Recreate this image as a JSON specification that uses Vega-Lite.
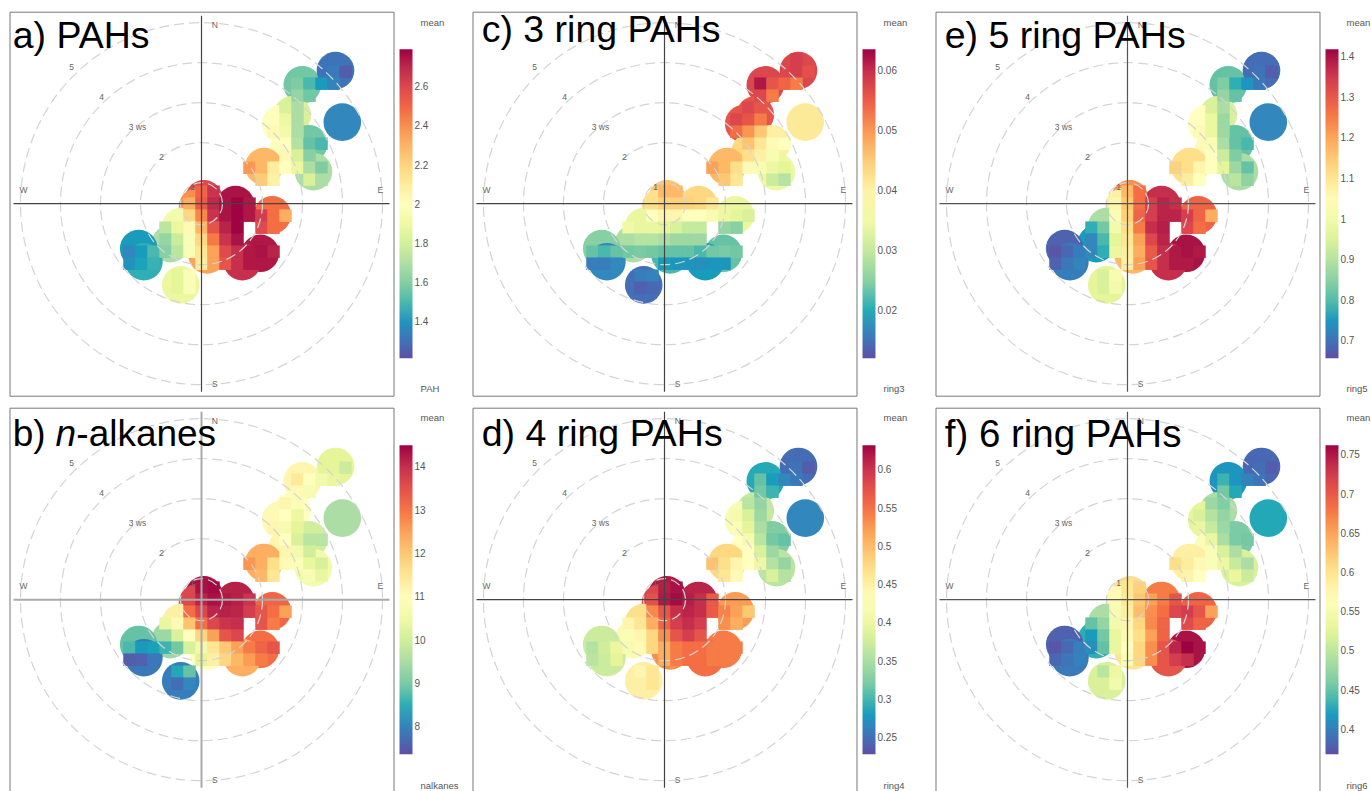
{"$schema":"https://vega.github.io/schema/vega-lite/v6.json","padding":{"left":8.5,"top":10.7,"right":0,"bottom":0},"background":"white",
"config":{"view":{"stroke":"#777","strokeWidth":1},"range":{"ramp":["#5E4FA2","#3288BD","#66C2A5","#ABDDA4","#E6F598","#FFFFBF","#FEE08B","#FDAE61","#F46D43","#D53E4F","#9E0142"]},"legend":{"orient":"none","legendX":390,"legendY":37.5,"padding":0,"title":null,"gradientLength":309,"gradientThickness":13,"gradientStrokeWidth":0,"labelFontSize":10,"labelColor":"#555","labelFont":"Liberation Sans","labelOffset":12},"text":{"font":"Liberation Sans"}},
"resolve":{"scale":{"color":"independent","size":"independent"},"legend":{"color":"independent"}},
"datasets":{
"rings":[{"ws":1,"r":0.525,"x":0,"y":0},{"ws":2,"r":1.525,"x":0,"y":0},{"ws":3,"r":2.525,"x":0,"y":0},{"ws":4,"r":3.525,"x":0,"y":0},{"ws":5,"r":4.525,"x":0,"y":0}],
"cross":[{"x":-4.7,"x2":4.7,"y":0,"y2":0},{"x":0,"x2":0,"y":-4.7,"y2":4.7}],
"compass":[{"x":0.33,"y":4.47,"label":"N"},{"x":0.33,"y":-4.5,"label":"S"},{"x":-4.45,"y":0.33,"label":"W"},{"x":4.47,"y":0.33,"label":"E"},{"x":-3.25,"y":3.42,"label":"5"},{"x":-2.5,"y":2.67,"label":"4"},{"x":-1.6,"y":1.92,"label":"3 ws"},{"x":-1,"y":1.17,"label":"2"},{"x":-0.22,"y":0.42,"label":"1"}],
"lobes":[
{"x":2.52,"y":2.97,"PAH":1.56,"nalkanes":11.16,"ring3":0.0575,"ring4":0.29,"ring5":0.81,"ring6":0.416},
{"x":3.35,"y":3.33,"PAH":1.31,"nalkanes":10.23,"ring3":0.0575,"ring4":0.249,"ring5":0.696,"ring6":0.385},
{"x":3.52,"y":2.04,"PAH":1.37,"nalkanes":9.52,"ring3":0.0416,"ring4":0.269,"ring5":0.734,"ring6":0.428},
{"x":2.27,"y":2.22,"PAH":1.82,"nalkanes":10.94,"ring3":0.056,"ring4":0.37,"ring5":0.948,"ring6":0.487},
{"x":1.98,"y":2.0,"PAH":2.0,"nalkanes":11.1,"ring3":0.056,"ring4":0.419,"ring5":1.04,"ring6":0.527},
{"x":2.68,"y":1.5,"PAH":1.56,"nalkanes":10.0,"ring3":0.0405,"ring4":0.326,"ring5":0.81,"ring6":0.46},
{"x":2.14,"y":1.3,"PAH":2.0,"nalkanes":11.16,"ring3":0.044,"ring4":0.431,"ring5":1.054,"ring6":0.558},
{"x":2.8,"y":0.8,"PAH":1.69,"nalkanes":10.6,"ring3":0.0343,"ring4":0.362,"ring5":0.887,"ring6":0.519},
{"x":1.56,"y":0.93,"PAH":2.29,"nalkanes":12.37,"ring3":0.0472,"ring4":0.479,"ring5":1.115,"ring6":0.586},
{"x":0.06,"y":0.12,"PAH":2.6,"nalkanes":14.37,"ring3":0.0462,"ring4":0.621,"ring5":1.23,"ring6":0.605},
{"x":-0.1,"y":-0.08,"PAH":2.4,"nalkanes":13.65,"ring3":0.043,"ring4":0.585,"ring5":1.077,"ring6":0.574},
{"x":0.85,"y":-0.02,"PAH":2.76,"nalkanes":14.2,"ring3":0.0441,"ring4":0.613,"ring5":1.367,"ring6":0.676},
{"x":1.77,"y":-0.28,"PAH":2.48,"nalkanes":13.2,"ring3":0.0338,"ring4":0.524,"ring5":1.283,"ring6":0.692},
{"x":0.56,"y":-0.66,"PAH":2.71,"nalkanes":13.8,"ring3":0.0318,"ring4":0.593,"ring5":1.367,"ring6":0.704},
{"x":1.47,"y":-1.24,"PAH":2.75,"nalkanes":13.08,"ring3":0.0225,"ring4":0.544,"ring5":1.405,"ring6":0.755},
{"x":1.02,"y":-1.45,"PAH":2.68,"nalkanes":12.37,"ring3":0.0189,"ring4":0.552,"ring5":1.367,"ring6":0.704},
{"x":0.14,"y":-1.28,"PAH":2.35,"nalkanes":10.94,"ring3":0.0215,"ring4":0.532,"ring5":1.176,"ring6":0.598},
{"x":0.06,"y":-0.82,"PAH":2.48,"nalkanes":12.37,"ring3":0.0277,"ring4":0.572,"ring5":1.252,"ring6":0.613},
{"x":-0.52,"y":-0.57,"PAH":1.93,"nalkanes":11.3,"ring3":0.0338,"ring4":0.471,"ring5":0.887,"ring6":0.487},
{"x":-0.78,"y":-1.0,"PAH":1.69,"nalkanes":9.37,"ring3":0.0277,"ring4":0.439,"ring5":0.757,"ring6":0.432},
{"x":-1.57,"y":-1.12,"PAH":1.42,"nalkanes":8.8,"ring3":0.025,"ring4":0.374,"ring5":0.681,"ring6":0.381},
{"x":-1.44,"y":-1.45,"PAH":1.47,"nalkanes":7.87,"ring3":0.0174,"ring4":0.374,"ring5":0.719,"ring6":0.397},
{"x":-0.52,"y":-2.03,"PAH":1.88,"nalkanes":7.95,"ring3":0.0148,"ring4":0.451,"ring5":0.963,"ring6":0.519}],
"cells":[
{"x":3.3,"y":3.6,"PAH":1.31,"nalkanes":10.23,"ring3":0.0586,"ring4":0.249,"ring5":0.696,"ring6":0.385},
{"x":3.3,"y":3.3,"PAH":1.33,"nalkanes":10.23,"ring3":0.0586,"ring4":0.253,"ring5":0.704,"ring6":0.389},
{"x":3.6,"y":3.3,"PAH":1.25,"nalkanes":9.94,"ring3":0.0565,"ring4":0.237,"ring5":0.673,"ring6":0.377},
{"x":2.4,"y":3.0,"PAH":1.59,"nalkanes":11.44,"ring3":0.0622,"ring4":0.31,"ring5":0.841,"ring6":0.436},
{"x":2.7,"y":3.0,"PAH":1.5,"nalkanes":10.94,"ring3":0.056,"ring4":0.282,"ring5":0.78,"ring6":0.416},
{"x":3.0,"y":3.0,"PAH":1.42,"nalkanes":10.59,"ring3":0.0544,"ring4":0.269,"ring5":0.749,"ring6":0.404},
{"x":3.3,"y":3.0,"PAH":1.36,"nalkanes":10.37,"ring3":0.0524,"ring4":0.257,"ring5":0.711,"ring6":0.393},
{"x":2.4,"y":2.7,"PAH":1.64,"nalkanes":11.08,"ring3":0.0575,"ring4":0.318,"ring5":0.864,"ring6":0.456},
{"x":2.7,"y":2.7,"PAH":1.56,"nalkanes":10.73,"ring3":0.0524,"ring4":0.298,"ring5":0.81,"ring6":0.428},
{"x":2.1,"y":2.4,"PAH":1.82,"nalkanes":11.16,"ring3":0.0575,"ring4":0.362,"ring5":0.948,"ring6":0.479},
{"x":2.4,"y":2.4,"PAH":1.69,"nalkanes":10.8,"ring3":0.056,"ring4":0.338,"ring5":0.887,"ring6":0.464},
{"x":1.8,"y":2.1,"PAH":2.0,"nalkanes":11.08,"ring3":0.0575,"ring4":0.411,"ring5":1.04,"ring6":0.519},
{"x":2.1,"y":2.1,"PAH":1.89,"nalkanes":10.94,"ring3":0.056,"ring4":0.383,"ring5":0.978,"ring6":0.495},
{"x":2.4,"y":2.1,"PAH":1.69,"nalkanes":10.44,"ring3":0.0524,"ring4":0.342,"ring5":0.871,"ring6":0.475},
{"x":1.8,"y":1.8,"PAH":2.04,"nalkanes":11.16,"ring3":0.0534,"ring4":0.423,"ring5":1.054,"ring6":0.534},
{"x":2.1,"y":1.8,"PAH":1.93,"nalkanes":10.66,"ring3":0.0503,"ring4":0.391,"ring5":0.978,"ring6":0.507},
{"x":2.4,"y":1.8,"PAH":1.69,"nalkanes":10.23,"ring3":0.0457,"ring4":0.35,"ring5":0.871,"ring6":0.479},
{"x":2.1,"y":1.5,"PAH":2.0,"nalkanes":10.94,"ring3":0.0462,"ring4":0.415,"ring5":1.016,"ring6":0.534},
{"x":2.4,"y":1.5,"PAH":1.72,"nalkanes":10.09,"ring3":0.0421,"ring4":0.362,"ring5":0.887,"ring6":0.487},
{"x":2.7,"y":1.5,"PAH":1.53,"nalkanes":9.73,"ring3":0.039,"ring4":0.318,"ring5":0.81,"ring6":0.46},
{"x":3.0,"y":1.5,"PAH":1.5,"nalkanes":9.73,"ring3":0.038,"ring4":0.31,"ring5":0.795,"ring6":0.456},
{"x":2.1,"y":1.2,"PAH":2.04,"nalkanes":11.16,"ring3":0.0431,"ring4":0.431,"ring5":1.04,"ring6":0.558},
{"x":2.4,"y":1.2,"PAH":1.82,"nalkanes":10.59,"ring3":0.0405,"ring4":0.383,"ring5":0.932,"ring6":0.519},
{"x":2.7,"y":1.2,"PAH":1.61,"nalkanes":10.0,"ring3":0.0364,"ring4":0.342,"ring5":0.841,"ring6":0.487},
{"x":1.2,"y":0.9,"PAH":2.38,"nalkanes":12.65,"ring3":0.0493,"ring4":0.496,"ring5":1.138,"ring6":0.605},
{"x":1.5,"y":0.9,"PAH":2.29,"nalkanes":12.37,"ring3":0.0472,"ring4":0.471,"ring5":1.115,"ring6":0.59},
{"x":1.8,"y":0.9,"PAH":2.1,"nalkanes":11.66,"ring3":0.0431,"ring4":0.443,"ring5":1.062,"ring6":0.574},
{"x":2.1,"y":0.9,"PAH":2.0,"nalkanes":11.08,"ring3":0.039,"ring4":0.431,"ring5":1.04,"ring6":0.558},
{"x":2.4,"y":0.9,"PAH":1.88,"nalkanes":10.8,"ring3":0.0364,"ring4":0.403,"ring5":0.963,"ring6":0.538},
{"x":2.7,"y":0.9,"PAH":1.69,"nalkanes":10.37,"ring3":0.0343,"ring4":0.358,"ring5":0.871,"ring6":0.507},
{"x":3.0,"y":0.9,"PAH":1.59,"nalkanes":10.09,"ring3":0.0328,"ring4":0.338,"ring5":0.81,"ring6":0.487},
{"x":1.5,"y":0.6,"PAH":2.23,"nalkanes":12.23,"ring3":0.0457,"ring4":0.463,"ring5":1.085,"ring6":0.582},
{"x":1.8,"y":0.6,"PAH":2.08,"nalkanes":11.51,"ring3":0.0421,"ring4":0.439,"ring5":1.04,"ring6":0.566},
{"x":2.7,"y":0.6,"PAH":1.82,"nalkanes":10.73,"ring3":0.0307,"ring4":0.383,"ring5":0.909,"ring6":0.534},
{"x":3.0,"y":0.6,"PAH":1.69,"nalkanes":10.37,"ring3":0.0287,"ring4":0.358,"ring5":0.856,"ring6":0.511},
{"x":0,"y":0.3,"PAH":2.51,"nalkanes":14.37,"ring3":0.0472,"ring4":0.617,"ring5":1.176,"ring6":0.598},
{"x":0.3,"y":0.3,"PAH":2.67,"nalkanes":14.44,"ring3":0.0472,"ring4":0.625,"ring5":1.268,"ring6":0.617},
{"x":-0.3,"y":0,"PAH":2.32,"nalkanes":13.65,"ring3":0.0431,"ring4":0.576,"ring5":1.062,"ring6":0.574},
{"x":0,"y":0,"PAH":2.54,"nalkanes":14.15,"ring3":0.0446,"ring4":0.621,"ring5":1.153,"ring6":0.594},
{"x":0.3,"y":0,"PAH":2.7,"nalkanes":14.37,"ring3":0.0446,"ring4":0.629,"ring5":1.268,"ring6":0.625},
{"x":0.6,"y":0,"PAH":2.76,"nalkanes":14.3,"ring3":0.0446,"ring4":0.617,"ring5":1.344,"ring6":0.653},
{"x":0.9,"y":0,"PAH":2.79,"nalkanes":14.2,"ring3":0.0441,"ring4":0.605,"ring5":1.382,"ring6":0.676},
{"x":1.2,"y":0,"PAH":2.75,"nalkanes":13.94,"ring3":0.0421,"ring4":0.568,"ring5":1.367,"ring6":0.704},
{"x":-0.3,"y":-0.3,"PAH":2.19,"nalkanes":13.08,"ring3":0.038,"ring4":0.536,"ring5":1.024,"ring6":0.554},
{"x":0,"y":-0.3,"PAH":2.42,"nalkanes":13.65,"ring3":0.0395,"ring4":0.572,"ring5":1.138,"ring6":0.586},
{"x":0.3,"y":-0.3,"PAH":2.67,"nalkanes":14.15,"ring3":0.0395,"ring4":0.605,"ring5":1.283,"ring6":0.633},
{"x":0.6,"y":-0.3,"PAH":2.76,"nalkanes":14.2,"ring3":0.038,"ring4":0.613,"ring5":1.344,"ring6":0.665},
{"x":0.9,"y":-0.3,"PAH":2.79,"nalkanes":14.15,"ring3":0.038,"ring4":0.605,"ring5":1.382,"ring6":0.684},
{"x":1.2,"y":-0.3,"PAH":2.75,"nalkanes":13.8,"ring3":0.0364,"ring4":0.568,"ring5":1.382,"ring6":0.716},
{"x":1.5,"y":-0.3,"PAH":2.64,"nalkanes":13.44,"ring3":0.0343,"ring4":0.54,"ring5":1.344,"ring6":0.724},
{"x":1.8,"y":-0.3,"PAH":2.48,"nalkanes":13.08,"ring3":0.0328,"ring4":0.52,"ring5":1.283,"ring6":0.704},
{"x":2.1,"y":-0.3,"PAH":2.32,"nalkanes":12.51,"ring3":0.0318,"ring4":0.492,"ring5":1.191,"ring6":0.653},
{"x":-0.9,"y":-0.6,"PAH":1.74,"nalkanes":10.37,"ring3":0.0349,"ring4":0.443,"ring5":0.78,"ring6":0.448},
{"x":-0.6,"y":-0.6,"PAH":1.88,"nalkanes":11.08,"ring3":0.0338,"ring4":0.463,"ring5":0.826,"ring6":0.475},
{"x":-0.3,"y":-0.6,"PAH":2.04,"nalkanes":12.08,"ring3":0.0338,"ring4":0.512,"ring5":1.0,"ring6":0.546},
{"x":0,"y":-0.6,"PAH":2.29,"nalkanes":13.08,"ring3":0.0328,"ring4":0.56,"ring5":1.115,"ring6":0.578},
{"x":0.3,"y":-0.6,"PAH":2.56,"nalkanes":13.65,"ring3":0.0318,"ring4":0.593,"ring5":1.252,"ring6":0.613},
{"x":0.6,"y":-0.6,"PAH":2.72,"nalkanes":13.94,"ring3":0.0302,"ring4":0.605,"ring5":1.367,"ring6":0.668},
{"x":0.9,"y":-0.6,"PAH":2.79,"nalkanes":14.01,"ring3":0.0302,"ring4":0.593,"ring5":1.39,"ring6":0.692},
{"x":1.5,"y":-0.6,"PAH":2.59,"nalkanes":13.44,"ring3":0.0261,"ring4":0.532,"ring5":1.329,"ring6":0.712},
{"x":1.8,"y":-0.6,"PAH":2.48,"nalkanes":12.94,"ring3":0.025,"ring4":0.512,"ring5":1.268,"ring6":0.692},
{"x":-0.9,"y":-0.9,"PAH":1.64,"nalkanes":9.37,"ring3":0.0277,"ring4":0.423,"ring5":0.734,"ring6":0.42},
{"x":-0.6,"y":-0.9,"PAH":1.78,"nalkanes":10.09,"ring3":0.0287,"ring4":0.443,"ring5":0.795,"ring6":0.456},
{"x":-0.3,"y":-0.9,"PAH":1.97,"nalkanes":10.94,"ring3":0.0287,"ring4":0.479,"ring5":0.963,"ring6":0.534},
{"x":0,"y":-0.9,"PAH":2.19,"nalkanes":11.8,"ring3":0.0277,"ring4":0.532,"ring5":1.1,"ring6":0.574},
{"x":0.3,"y":-0.9,"PAH":2.45,"nalkanes":12.51,"ring3":0.0266,"ring4":0.572,"ring5":1.207,"ring6":0.605},
{"x":0.6,"y":-0.9,"PAH":2.67,"nalkanes":13.44,"ring3":0.0266,"ring4":0.593,"ring5":1.329,"ring6":0.653},
{"x":0.9,"y":-0.9,"PAH":2.76,"nalkanes":13.65,"ring3":0.0266,"ring4":0.572,"ring5":1.382,"ring6":0.692},
{"x":-1.8,"y":-1.2,"PAH":1.37,"nalkanes":8.66,"ring3":0.0225,"ring4":0.358,"ring5":0.666,"ring6":0.373},
{"x":-1.5,"y":-1.2,"PAH":1.42,"nalkanes":8.3,"ring3":0.0215,"ring4":0.378,"ring5":0.688,"ring6":0.385},
{"x":-1.2,"y":-1.2,"PAH":1.5,"nalkanes":8.37,"ring3":0.0225,"ring4":0.399,"ring5":0.719,"ring6":0.401},
{"x":-0.9,"y":-1.2,"PAH":1.61,"nalkanes":8.59,"ring3":0.0235,"ring4":0.415,"ring5":0.734,"ring6":0.412},
{"x":-0.6,"y":-1.2,"PAH":1.74,"nalkanes":8.94,"ring3":0.024,"ring4":0.439,"ring5":0.78,"ring6":0.448},
{"x":-0.3,"y":-1.2,"PAH":1.97,"nalkanes":10.09,"ring3":0.0235,"ring4":0.479,"ring5":0.978,"ring6":0.534},
{"x":0,"y":-1.2,"PAH":2.13,"nalkanes":10.59,"ring3":0.0225,"ring4":0.512,"ring5":1.085,"ring6":0.566},
{"x":0.3,"y":-1.2,"PAH":2.35,"nalkanes":11.51,"ring3":0.0225,"ring4":0.544,"ring5":1.191,"ring6":0.613},
{"x":0.6,"y":-1.2,"PAH":2.59,"nalkanes":12.01,"ring3":0.0225,"ring4":0.552,"ring5":1.298,"ring6":0.665},
{"x":0.9,"y":-1.2,"PAH":2.68,"nalkanes":12.51,"ring3":0.0215,"ring4":0.552,"ring5":1.367,"ring6":0.704},
{"x":1.2,"y":-1.2,"PAH":2.75,"nalkanes":12.94,"ring3":0.0235,"ring4":0.544,"ring5":1.397,"ring6":0.743},
{"x":1.5,"y":-1.2,"PAH":2.76,"nalkanes":13.23,"ring3":0.024,"ring4":0.544,"ring5":1.405,"ring6":0.763},
{"x":1.8,"y":-1.2,"PAH":2.72,"nalkanes":13.44,"ring3":0.0235,"ring4":0.544,"ring5":1.397,"ring6":0.755},
{"x":-1.8,"y":-1.5,"PAH":1.4,"nalkanes":7.52,"ring3":0.0163,"ring4":0.362,"ring5":0.681,"ring6":0.385},
{"x":-1.5,"y":-1.5,"PAH":1.44,"nalkanes":7.59,"ring3":0.0163,"ring4":0.374,"ring5":0.711,"ring6":0.393},
{"x":-1.2,"y":-1.5,"PAH":1.48,"nalkanes":7.87,"ring3":0.0174,"ring4":0.391,"ring5":0.727,"ring6":0.404},
{"x":0,"y":-1.5,"PAH":2.1,"nalkanes":10.23,"ring3":0.0189,"ring4":0.512,"ring5":1.077,"ring6":0.558},
{"x":0.3,"y":-1.5,"PAH":2.35,"nalkanes":11.3,"ring3":0.0184,"ring4":0.544,"ring5":1.207,"ring6":0.613},
{"x":0.6,"y":-1.5,"PAH":2.56,"nalkanes":11.8,"ring3":0.0184,"ring4":0.552,"ring5":1.306,"ring6":0.665},
{"x":0.9,"y":-1.5,"PAH":2.68,"nalkanes":12.23,"ring3":0.0179,"ring4":0.552,"ring5":1.367,"ring6":0.704},
{"x":1.2,"y":-1.5,"PAH":2.75,"nalkanes":12.58,"ring3":0.0184,"ring4":0.544,"ring5":1.397,"ring6":0.724},
{"x":1.5,"y":-1.5,"PAH":2.75,"nalkanes":12.94,"ring3":0.0184,"ring4":0.544,"ring5":1.397,"ring6":0.735},
{"x":-0.6,"y":-1.8,"PAH":1.85,"nalkanes":8.45,"ring3":0.0163,"ring4":0.443,"ring5":0.948,"ring6":0.499},
{"x":-0.3,"y":-1.8,"PAH":1.97,"nalkanes":8.8,"ring3":0.0168,"ring4":0.463,"ring5":1.016,"ring6":0.538},
{"x":-0.6,"y":-2.1,"PAH":1.85,"nalkanes":7.73,"ring3":0.0137,"ring4":0.451,"ring5":0.948,"ring6":0.519},
{"x":-0.3,"y":-2.1,"PAH":1.97,"nalkanes":8.09,"ring3":0.0143,"ring4":0.463,"ring5":1.0,"ring6":0.546}]
},
"columns":3,"bounds":"flush","spacing":{"row":12,"column":79},
"concat":[
{"width":384,"height":384,"encoding":{"x":{"field":"x","type":"quantitative","axis":null,"scale":{"domain":[-4.8,4.8],"nice":false,"zero":false}},"y":{"field":"y","type":"quantitative","axis":null,"scale":{"domain":[-4.8,4.8],"nice":false,"zero":false}}},
"layer":[
{"data":{"name":"lobes"},"mark":{"type":"point","filled":true,"opacity":1,"size":1414,"shape":"circle"},"encoding":{"color":{"field":"PAH","type":"quantitative","scale":{"domain":[1.216,2.794]},"legend":{"values":[1.4,1.6,1.8,2,2.2,2.4,2.6],"format":".1~f"}}}},
{"data":{"name":"cells"},"mark":{"type":"square","opacity":1,"size":156},"encoding":{"color":{"field":"PAH","type":"quantitative"}}},
{"data":{"name":"rings"},"mark":{"type":"point","filled":false,"shape":"circle","color":"#d4d4d4","strokeWidth":1.2,"strokeDash":[10,5],"opacity":1},"encoding":{"size":{"field":"r","type":"quantitative","legend":null,"scale":{"type":"pow","exponent":2,"domain":[0,4.525],"range":[0,131044]}}}},
{"data":{"name":"cross"},"mark":{"type":"rule","color":"#444","strokeWidth":1.2},"encoding":{"x2":{"field":"x2"},"y2":{"field":"y2"}}},
{"data":{"name":"compass"},"mark":{"type":"text","fontSize":8.5,"color":"#666"},"encoding":{"text":{"field":"label"}}},
{"data":{"values":[{"x":5.475,"y":4.52,"label":"mean"},{"x":5.475,"y":-4.63,"label":"PAH"}]},"mark":{"type":"text","fontSize":9.5,"color":"#555","align":"left"},"encoding":{"text":{"field":"label"}}},
{"data":{"values":[{"x":-4.72,"y":3.9,"label":"a) PAHs"}]},"mark":{"type":"text","fontSize":37.5,"color":"#000","align":"left","baseline":"alphabetic"},"encoding":{"text":{"field":"label"}}}
]},
{"width":384,"height":384,"encoding":{"x":{"field":"x","type":"quantitative","axis":null,"scale":{"domain":[-4.8,4.8],"nice":false,"zero":false}},"y":{"field":"y","type":"quantitative","axis":null,"scale":{"domain":[-4.8,4.8],"nice":false,"zero":false}}},
"layer":[
{"data":{"name":"lobes"},"mark":{"type":"point","filled":true,"opacity":1,"size":1414,"shape":"circle"},"encoding":{"color":{"field":"ring3","type":"quantitative","scale":{"domain":[0.0122,0.0637]},"legend":{"values":[0.02,0.03,0.04,0.05,0.06],"format":".2f"}}}},
{"data":{"name":"cells"},"mark":{"type":"square","opacity":1,"size":156},"encoding":{"color":{"field":"ring3","type":"quantitative"}}},
{"data":{"name":"rings"},"mark":{"type":"point","filled":false,"shape":"circle","color":"#d4d4d4","strokeWidth":1.2,"strokeDash":[10,5],"opacity":1},"encoding":{"size":{"field":"r","type":"quantitative","legend":null,"scale":{"type":"pow","exponent":2,"domain":[0,4.525],"range":[0,131044]}}}},
{"data":{"name":"cross"},"mark":{"type":"rule","color":"#444","strokeWidth":1.2},"encoding":{"x2":{"field":"x2"},"y2":{"field":"y2"}}},
{"data":{"name":"compass"},"mark":{"type":"text","fontSize":8.5,"color":"#666"},"encoding":{"text":{"field":"label"}}},
{"data":{"values":[{"x":5.475,"y":4.52,"label":"mean"},{"x":5.475,"y":-4.63,"label":"ring3"}]},"mark":{"type":"text","fontSize":9.5,"color":"#555","align":"left"},"encoding":{"text":{"field":"label"}}},
{"data":{"values":[{"x":-4.57,"y":4.03,"label":"c) 3 ring PAHs"}]},"mark":{"type":"text","fontSize":37.5,"color":"#000","align":"left","baseline":"alphabetic"},"encoding":{"text":{"field":"label"}}}
]},
{"width":384,"height":384,"encoding":{"x":{"field":"x","type":"quantitative","axis":null,"scale":{"domain":[-4.8,4.8],"nice":false,"zero":false}},"y":{"field":"y","type":"quantitative","axis":null,"scale":{"domain":[-4.8,4.8],"nice":false,"zero":false}}},
"layer":[
{"data":{"name":"lobes"},"mark":{"type":"point","filled":true,"opacity":1,"size":1414,"shape":"circle"},"encoding":{"color":{"field":"ring5","type":"quantitative","scale":{"domain":[0.658,1.42]},"legend":{"values":[0.7,0.8,0.9,1,1.1,1.2,1.3,1.4],"format":".1~f"}}}},
{"data":{"name":"cells"},"mark":{"type":"square","opacity":1,"size":156},"encoding":{"color":{"field":"ring5","type":"quantitative"}}},
{"data":{"name":"rings"},"mark":{"type":"point","filled":false,"shape":"circle","color":"#d4d4d4","strokeWidth":1.2,"strokeDash":[10,5],"opacity":1},"encoding":{"size":{"field":"r","type":"quantitative","legend":null,"scale":{"type":"pow","exponent":2,"domain":[0,4.525],"range":[0,131044]}}}},
{"data":{"name":"cross"},"mark":{"type":"rule","color":"#555","strokeWidth":1.2},"encoding":{"x2":{"field":"x2"},"y2":{"field":"y2"}}},
{"data":{"name":"compass"},"mark":{"type":"text","fontSize":8.5,"color":"#666"},"encoding":{"text":{"field":"label"}}},
{"data":{"values":[{"x":5.475,"y":4.52,"label":"mean"},{"x":5.475,"y":-4.63,"label":"ring5"}]},"mark":{"type":"text","fontSize":9.5,"color":"#555","align":"left"},"encoding":{"text":{"field":"label"}}},
{"data":{"values":[{"x":-4.57,"y":3.9,"label":"e) 5 ring PAHs"}]},"mark":{"type":"text","fontSize":37.5,"color":"#000","align":"left","baseline":"alphabetic"},"encoding":{"text":{"field":"label"}}}
]},
{"width":384,"height":384,"encoding":{"x":{"field":"x","type":"quantitative","axis":null,"scale":{"domain":[-4.8,4.8],"nice":false,"zero":false}},"y":{"field":"y","type":"quantitative","axis":null,"scale":{"domain":[-4.8,4.8],"nice":false,"zero":false}}},
"layer":[
{"data":{"name":"lobes"},"mark":{"type":"point","filled":true,"opacity":1,"size":1414,"shape":"circle"},"encoding":{"color":{"field":"nalkanes","type":"quantitative","scale":{"domain":[7.375,14.51]},"legend":{"values":[8,9,10,11,12,13,14],"format":"d"}}}},
{"data":{"name":"cells"},"mark":{"type":"square","opacity":1,"size":156},"encoding":{"color":{"field":"nalkanes","type":"quantitative"}}},
{"data":{"name":"rings"},"mark":{"type":"point","filled":false,"shape":"circle","color":"#d4d4d4","strokeWidth":1.2,"strokeDash":[10,5],"opacity":1},"encoding":{"size":{"field":"r","type":"quantitative","legend":null,"scale":{"type":"pow","exponent":2,"domain":[0,4.525],"range":[0,131044]}}}},
{"data":{"name":"cross"},"mark":{"type":"rule","color":"#aaa","strokeWidth":2},"encoding":{"x2":{"field":"x2"},"y2":{"field":"y2"}}},
{"data":{"name":"compass"},"mark":{"type":"text","fontSize":8.5,"color":"#666"},"encoding":{"text":{"field":"label"}}},
{"data":{"values":[{"x":5.475,"y":4.55,"label":"mean"},{"x":5.475,"y":-4.65,"label":"nalkanes"}]},"mark":{"type":"text","fontSize":9.5,"color":"#555","align":"left"},"encoding":{"text":{"field":"label"}}},
{"data":{"values":[{"x":-4.72,"y":3.85,"label":"b) "},{"x":-3.13,"y":3.85,"label":"-alkanes"}]},"mark":{"type":"text","fontSize":37,"color":"#000","align":"left","baseline":"alphabetic"},"encoding":{"text":{"field":"label"}}},
{"data":{"values":[{"x":-3.65,"y":3.85,"label":"n"}]},"mark":{"type":"text","fontSize":37,"fontStyle":"italic","color":"#000","align":"left","baseline":"alphabetic"},"encoding":{"text":{"field":"label"}}}
]},
{"width":384,"height":384,"encoding":{"x":{"field":"x","type":"quantitative","axis":null,"scale":{"domain":[-4.8,4.8],"nice":false,"zero":false}},"y":{"field":"y","type":"quantitative","axis":null,"scale":{"domain":[-4.8,4.8],"nice":false,"zero":false}}},
"layer":[
{"data":{"name":"lobes"},"mark":{"type":"point","filled":true,"opacity":1,"size":1414,"shape":"circle"},"encoding":{"color":{"field":"ring4","type":"quantitative","scale":{"domain":[0.229,0.633]},"legend":{"values":[0.25,0.3,0.35,0.4,0.45,0.5,0.55,0.6],"format":".2~f"}}}},
{"data":{"name":"cells"},"mark":{"type":"square","opacity":1,"size":156},"encoding":{"color":{"field":"ring4","type":"quantitative"}}},
{"data":{"name":"rings"},"mark":{"type":"point","filled":false,"shape":"circle","color":"#d4d4d4","strokeWidth":1.2,"strokeDash":[10,5],"opacity":1},"encoding":{"size":{"field":"r","type":"quantitative","legend":null,"scale":{"type":"pow","exponent":2,"domain":[0,4.525],"range":[0,131044]}}}},
{"data":{"name":"cross"},"mark":{"type":"rule","color":"#444","strokeWidth":1.2},"encoding":{"x2":{"field":"x2"},"y2":{"field":"y2"}}},
{"data":{"name":"compass"},"mark":{"type":"text","fontSize":8.5,"color":"#666"},"encoding":{"text":{"field":"label"}}},
{"data":{"values":[{"x":5.475,"y":4.55,"label":"mean"},{"x":5.475,"y":-4.65,"label":"ring4"}]},"mark":{"type":"text","fontSize":9.5,"color":"#555","align":"left"},"encoding":{"text":{"field":"label"}}},
{"data":{"values":[{"x":-4.57,"y":3.85,"label":"d) 4 ring PAHs"}]},"mark":{"type":"text","fontSize":37.5,"color":"#000","align":"left","baseline":"alphabetic"},"encoding":{"text":{"field":"label"}}}
]},
{"width":384,"height":384,"encoding":{"x":{"field":"x","type":"quantitative","axis":null,"scale":{"domain":[-4.8,4.8],"nice":false,"zero":false}},"y":{"field":"y","type":"quantitative","axis":null,"scale":{"domain":[-4.8,4.8],"nice":false,"zero":false}}},
"layer":[
{"data":{"name":"lobes"},"mark":{"type":"point","filled":true,"opacity":1,"size":1414,"shape":"circle"},"encoding":{"color":{"field":"ring6","type":"quantitative","scale":{"domain":[0.369,0.763]},"legend":{"values":[0.4,0.45,0.5,0.55,0.6,0.65,0.7,0.75],"format":".2~f"}}}},
{"data":{"name":"cells"},"mark":{"type":"square","opacity":1,"size":156},"encoding":{"color":{"field":"ring6","type":"quantitative"}}},
{"data":{"name":"rings"},"mark":{"type":"point","filled":false,"shape":"circle","color":"#d4d4d4","strokeWidth":1.2,"strokeDash":[10,5],"opacity":1},"encoding":{"size":{"field":"r","type":"quantitative","legend":null,"scale":{"type":"pow","exponent":2,"domain":[0,4.525],"range":[0,131044]}}}},
{"data":{"name":"cross"},"mark":{"type":"rule","color":"#555","strokeWidth":1.2},"encoding":{"x2":{"field":"x2"},"y2":{"field":"y2"}}},
{"data":{"name":"compass"},"mark":{"type":"text","fontSize":8.5,"color":"#666"},"encoding":{"text":{"field":"label"}}},
{"data":{"values":[{"x":5.475,"y":4.55,"label":"mean"},{"x":5.475,"y":-4.65,"label":"ring6"}]},"mark":{"type":"text","fontSize":9.5,"color":"#555","align":"left"},"encoding":{"text":{"field":"label"}}},
{"data":{"values":[{"x":-4.57,"y":3.82,"label":"f) 6 ring PAHs"}]},"mark":{"type":"text","fontSize":38.5,"color":"#000","align":"left","baseline":"alphabetic"},"encoding":{"text":{"field":"label"}}}
]}
]}
